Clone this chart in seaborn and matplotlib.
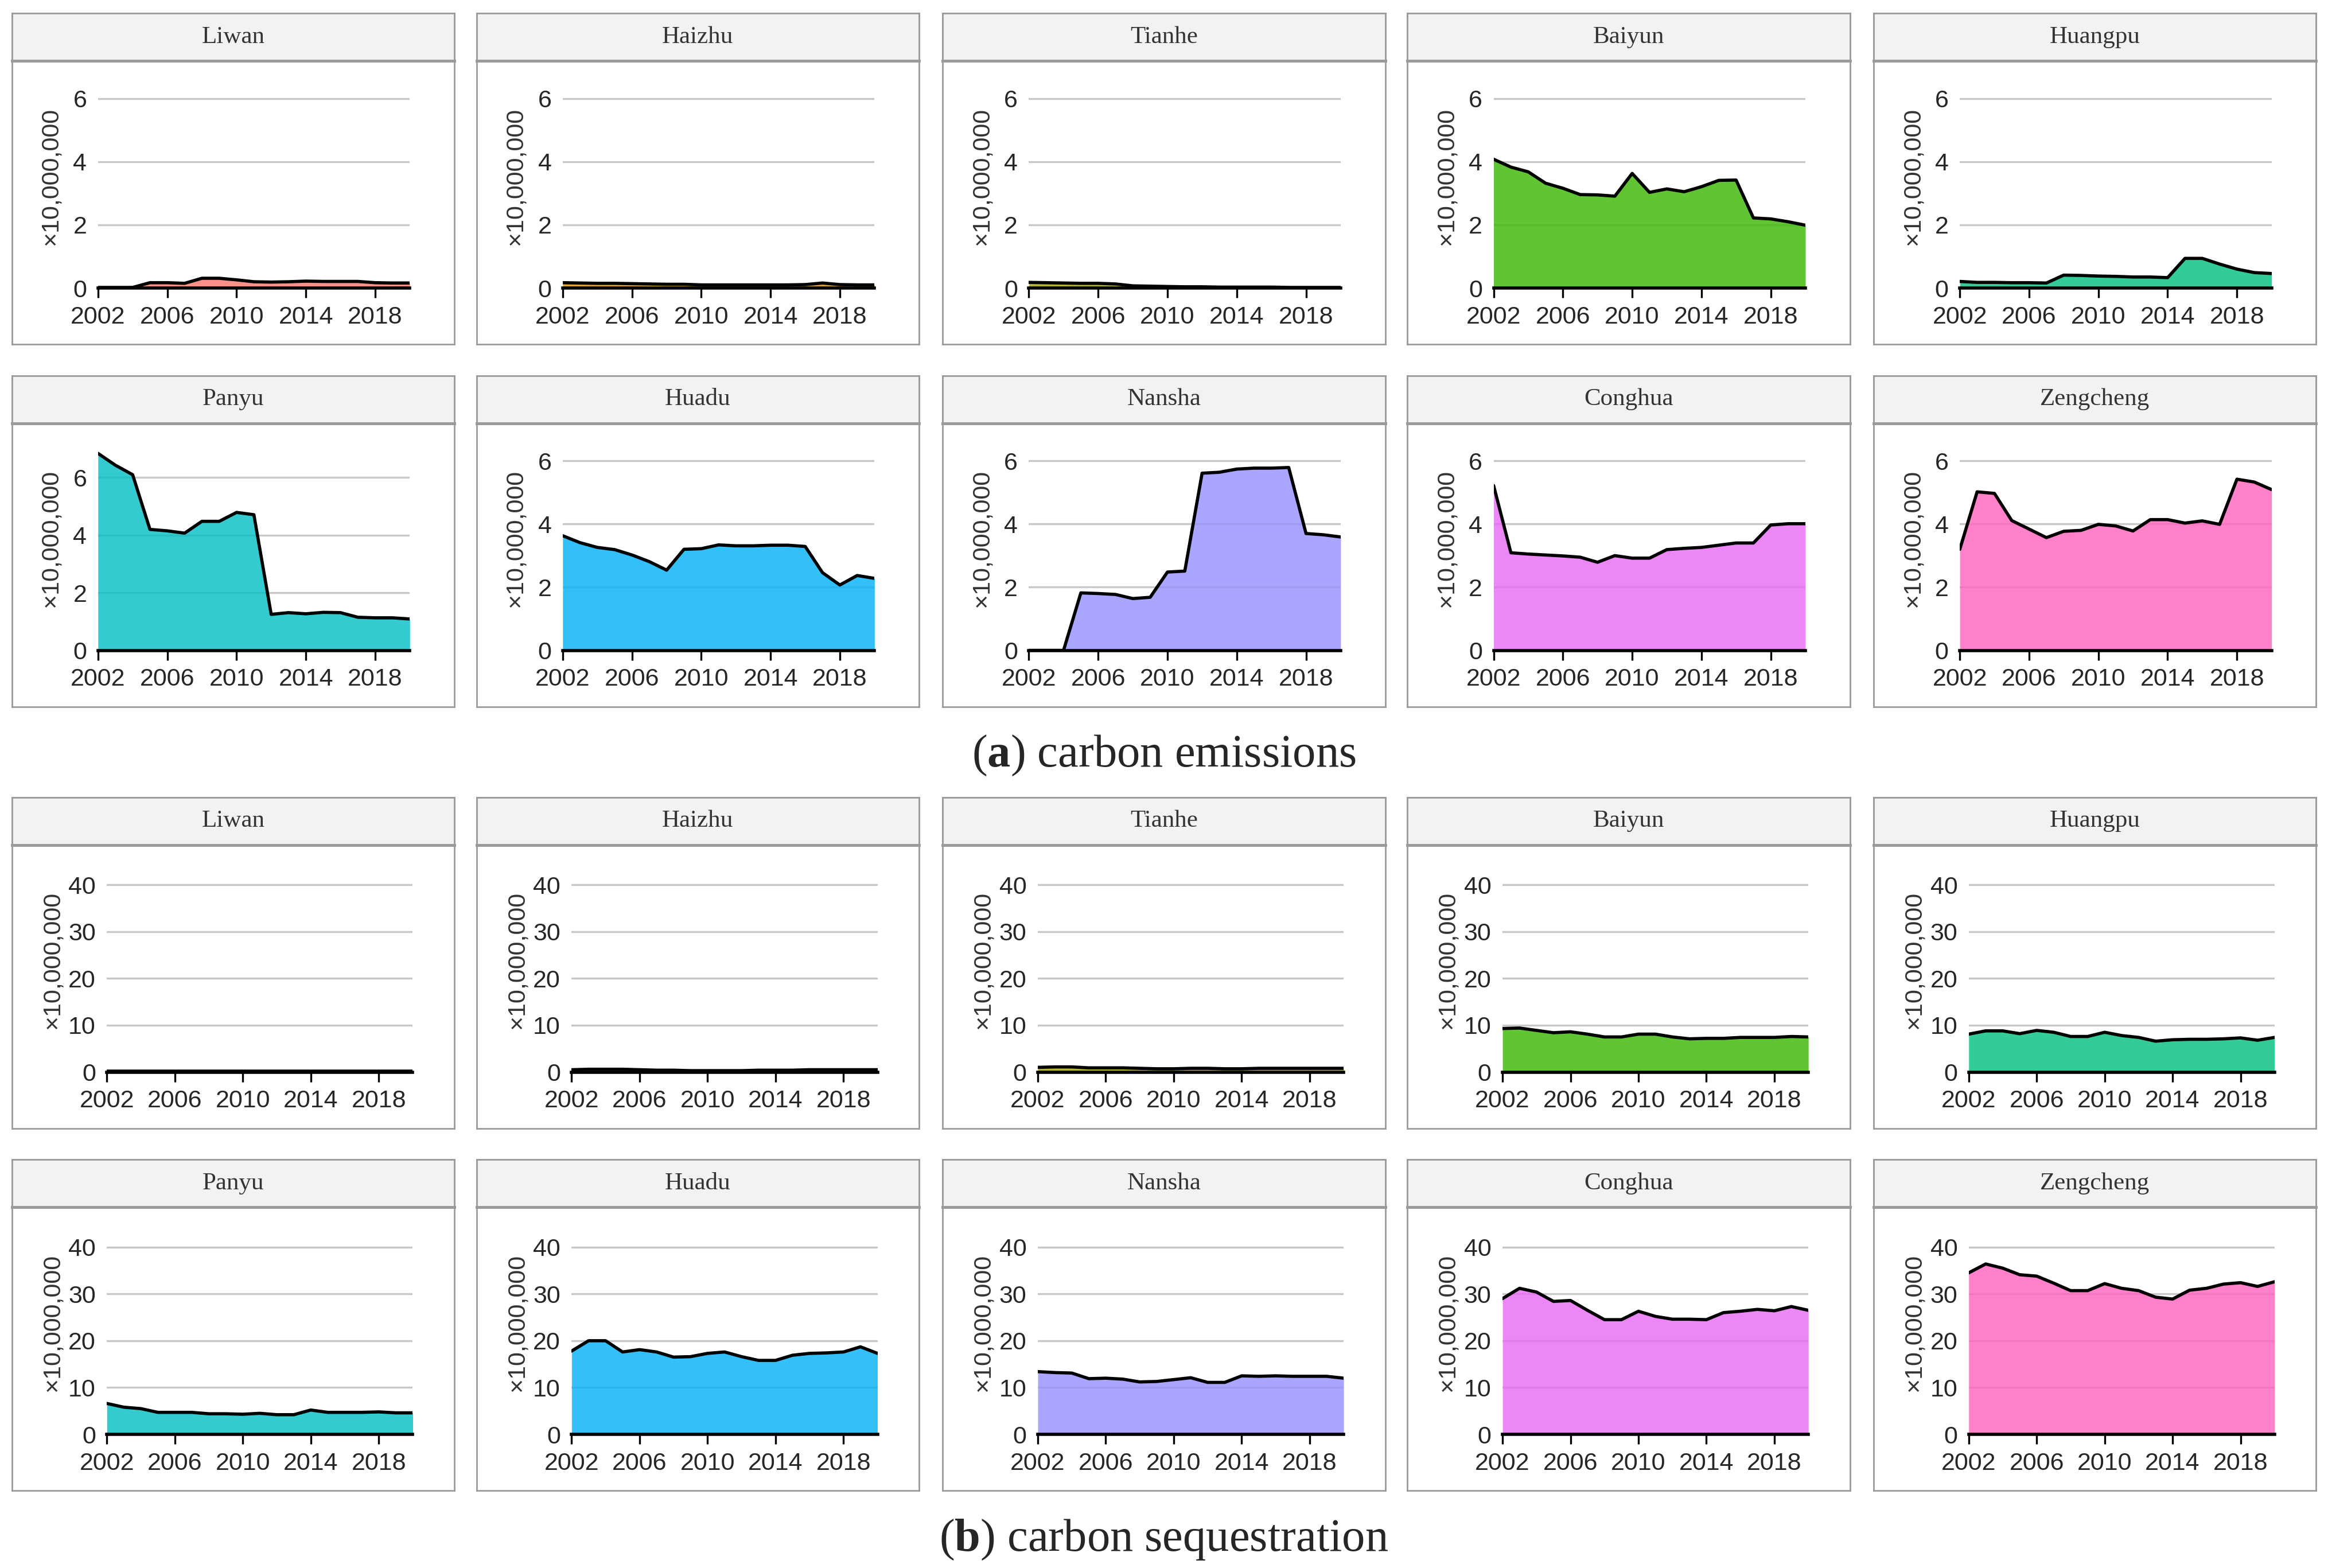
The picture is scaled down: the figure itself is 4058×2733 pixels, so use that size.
import numpy as np
import pandas as pd
import matplotlib
matplotlib.use("Agg")
import matplotlib.pyplot as plt
import seaborn as sns

# =========================
# DATA (x 10,000,000)
# =========================
years = list(range(2002, 2021))
districts = ["Liwan", "Haizhu", "Tianhe", "Baiyun", "Huangpu",
             "Panyu", "Huadu", "Nansha", "Conghua", "Zengcheng"]
colors = ["#F8766D", "#D89000", "#A3A500", "#39B600", "#00BF7D",
          "#00BFC4", "#00B0F6", "#9590FF", "#E76BF3", "#FF62BC"]

# carbon emissions
emis_liwan = [0.02, 0.02, 0.02, 0.17, 0.17, 0.15, 0.31, 0.31, 0.26, 0.20,
              0.19, 0.20, 0.22, 0.21, 0.21, 0.21, 0.17, 0.16, 0.16]
emis_haizhu = [0.17, 0.16, 0.15, 0.15, 0.14, 0.13, 0.12, 0.12, 0.10, 0.10,
               0.10, 0.10, 0.10, 0.10, 0.11, 0.16, 0.11, 0.10, 0.10]
emis_tianhe = [0.18, 0.17, 0.16, 0.15, 0.15, 0.13, 0.07, 0.06, 0.05, 0.04,
               0.04, 0.03, 0.03, 0.03, 0.03, 0.02, 0.02, 0.02, 0.02]
emis_baiyun = [4.08, 3.83, 3.68, 3.32, 3.16, 2.96, 2.95, 2.91, 3.63, 3.03,
               3.14, 3.05, 3.21, 3.41, 3.42, 2.22, 2.19, 2.10, 1.99]
emis_huangpu = [0.21, 0.18, 0.18, 0.17, 0.17, 0.16, 0.41, 0.40, 0.38, 0.37,
                0.35, 0.35, 0.33, 0.94, 0.94, 0.76, 0.60, 0.49, 0.46]
emis_panyu = [6.84, 6.43, 6.10, 4.20, 4.15, 4.07, 4.48, 4.48, 4.79, 4.71,
              1.25, 1.31, 1.27, 1.32, 1.31, 1.15, 1.13, 1.13, 1.09]
emis_huadu = [3.63, 3.41, 3.26, 3.19, 3.02, 2.81, 2.54, 3.20, 3.22, 3.34,
              3.31, 3.31, 3.33, 3.33, 3.29, 2.46, 2.07, 2.37, 2.28]
emis_nansha = [0.0, 0.0, 0.0, 1.82, 1.80, 1.77, 1.64, 1.68, 2.48, 2.51,
               5.61, 5.64, 5.74, 5.77, 5.77, 5.79, 3.70, 3.66, 3.59]
emis_conghua = [5.22, 3.09, 3.05, 3.02, 2.99, 2.95, 2.79, 3.00, 2.92, 2.92,
                3.19, 3.23, 3.26, 3.33, 3.40, 3.40, 3.97, 4.01, 4.01]
emis_zengcheng = [3.20, 5.02, 4.97, 4.11, 3.84, 3.57, 3.77, 3.80, 3.99, 3.94,
                  3.78, 4.14, 4.14, 4.03, 4.10, 3.99, 5.42, 5.33, 5.09]

# carbon sequestration
seq_liwan = [0.15, 0.15, 0.15, 0.15, 0.15, 0.15, 0.15, 0.15, 0.15, 0.15,
             0.15, 0.15, 0.15, 0.15, 0.15, 0.15, 0.15, 0.15, 0.15]
seq_haizhu = [0.5, 0.6, 0.6, 0.6, 0.5, 0.4, 0.4, 0.3, 0.3, 0.3,
              0.3, 0.4, 0.4, 0.4, 0.5, 0.5, 0.5, 0.5, 0.5]
seq_tianhe = [1.0, 1.1, 1.1, 0.9, 0.9, 0.9, 0.8, 0.7, 0.7, 0.8,
              0.8, 0.7, 0.7, 0.8, 0.8, 0.8, 0.8, 0.8, 0.8]
seq_baiyun = [9.3, 9.4, 8.9, 8.4, 8.6, 8.1, 7.5, 7.5, 8.1, 8.1,
              7.5, 7.1, 7.2, 7.2, 7.4, 7.4, 7.4, 7.6, 7.5]
seq_huangpu = [8.1, 8.8, 8.8, 8.2, 8.9, 8.5, 7.6, 7.6, 8.5, 7.8,
               7.4, 6.6, 6.9, 7.0, 7.0, 7.1, 7.3, 6.8, 7.4]
seq_panyu = [6.6, 5.8, 5.5, 4.7, 4.7, 4.7, 4.4, 4.4, 4.3, 4.5,
             4.2, 4.2, 5.2, 4.7, 4.7, 4.7, 4.8, 4.6, 4.6]
seq_huadu = [17.8, 20.0, 20.0, 17.6, 18.1, 17.6, 16.5, 16.6, 17.3, 17.6,
             16.6, 15.8, 15.8, 16.9, 17.3, 17.4, 17.6, 18.7, 17.3]
seq_nansha = [13.4, 13.2, 13.1, 11.9, 12.0, 11.8, 11.2, 11.3, 11.7, 12.1,
              11.1, 11.1, 12.5, 12.4, 12.5, 12.4, 12.4, 12.4, 12.0]
seq_conghua = [29.0, 31.2, 30.4, 28.4, 28.6, 26.5, 24.5, 24.5, 26.3, 25.2,
               24.6, 24.6, 24.5, 26.0, 26.3, 26.7, 26.4, 27.3, 26.5]
seq_zengcheng = [34.5, 36.4, 35.5, 34.1, 33.8, 32.3, 30.7, 30.7, 32.2, 31.2,
                 30.7, 29.3, 28.9, 30.8, 31.2, 32.1, 32.4, 31.6, 32.6]

emissions = [emis_liwan, emis_haizhu, emis_tianhe, emis_baiyun, emis_huangpu,
             emis_panyu, emis_huadu, emis_nansha, emis_conghua, emis_zengcheng]
sequestration = [seq_liwan, seq_haizhu, seq_tianhe, seq_baiyun, seq_huangpu,
                 seq_panyu, seq_huadu, seq_nansha, seq_conghua, seq_zengcheng]

rows = []
for kind, series in [("emis", emissions), ("seq", sequestration)]:
    for name, vals in zip(districts, series):
        for yr, v in zip(years, vals):
            rows.append({"kind": kind, "district": name, "year": yr, "value": v})
df = pd.DataFrame(rows)

# =========================
# STYLE
# =========================
sns.set_style("white")
plt.rcParams["font.family"] = ["Liberation Sans", "DejaVu Sans"]
plt.rcParams["mathtext.fontset"] = "custom"
plt.rcParams["mathtext.rm"] = "Liberation Serif"
plt.rcParams["mathtext.bf"] = "Liberation Serif:bold"

fig = plt.figure(figsize=(4058 / 200, 2733 / 200), dpi=200)

# layout in reference units (1568 x 1056)
W, H = 1568.0, 1056.0
col_left = [8, 321, 635, 948, 1262]
row_top = [9, 253, 537, 781]
PW, PH, SH = 298, 223, 32


def fbox(x0, y0, x1, y1):
    return [x0 / W, 1 - y1 / H, (x1 - x0) / W, (y1 - y0) / H]


settings = {
    "emis": dict(yticks=[0, 2, 4, 6], top=6.3, ax_l=58, ax_r=268, lab=24),
    "seq": dict(yticks=[0, 10, 20, 30, 40], top=42.5, ax_l=64, ax_r=270, lab=29),
}

for s, kind in enumerate(["emis", "seq"]):
    cfg = settings[kind]
    for i, name in enumerate(districts):
        r = s * 2 + i // 5
        c = i % 5
        left, top = col_left[c], row_top[r]

        frame = fig.add_axes(fbox(left, top, left + PW, top + PH))
        frame.set_xticks([])
        frame.set_yticks([])
        frame.set_facecolor("white")
        for sp in frame.spines.values():
            sp.set_color("#9a9a9a")
            sp.set_linewidth(1.0)

        strip = fig.add_axes(fbox(left, top, left + PW, top + SH))
        strip.set_xticks([])
        strip.set_yticks([])
        strip.set_facecolor("#F2F2F2")
        for sp in strip.spines.values():
            sp.set_color("#9a9a9a")
            sp.set_linewidth(1.0)
        strip.spines["bottom"].set_linewidth(1.8)
        strip.text(0.5, 0.5, name, ha="center", va="center", fontsize=15.5,
                   family="Liberation Serif", color="#333333",
                   transform=strip.transAxes)

        ax = fig.add_axes(fbox(left + cfg["ax_l"], top + 51,
                               left + cfg["ax_r"], top + 185))
        ax.patch.set_alpha(0)
        sub = df[(df["kind"] == kind) & (df["district"] == name)]
        ax.fill_between(sub["year"], sub["value"], 0, color=colors[i],
                        alpha=0.8, linewidth=0, zorder=1)
        sns.lineplot(data=sub, x="year", y="value", color="black",
                     linewidth=2.0, errorbar=None, ax=ax, zorder=3)

        ytop = max(cfg["top"], sub["value"].max() * 1.01)
        ax.set_xlim(2002, 2020)
        ax.set_ylim(0, ytop)
        ax.set_xticks([2002, 2006, 2010, 2014, 2018])
        ax.set_yticks(cfg["yticks"])
        ax.set_axisbelow(True)
        ax.grid(axis="y", color="#C8C8C8", linewidth=1.2)
        ax.grid(axis="x", visible=False)
        for sp in ["left", "right", "top"]:
            ax.spines[sp].set_visible(False)
        ax.spines["bottom"].set_color("black")
        ax.spines["bottom"].set_linewidth(2.0)
        ax.spines["bottom"].set_zorder(4)
        ax.tick_params(axis="x", length=6, width=1.2, color="black",
                       labelsize=15.5, pad=5, bottom=True, direction="out")
        ax.tick_params(axis="y", length=0, labelsize=15.5, pad=7)
        ax.set_xlabel("")
        ax.set_ylabel("×10,000,000", fontsize=15.5, color="#333333")
        ax.yaxis.set_label_coords(-cfg["lab"] / (cfg["ax_r"] - cfg["ax_l"]), 0.56)

fig.text(0.5, 1 - 509 / H, r"($\mathbf{a}$) carbon emissions", ha="center",
         va="center", fontsize=29, family="Liberation Serif")
fig.text(0.5, 1 - 1037 / H, r"($\mathbf{b}$) carbon sequestration", ha="center",
         va="center", fontsize=29, family="Liberation Serif")

fig.savefig("out.png", dpi=200)
